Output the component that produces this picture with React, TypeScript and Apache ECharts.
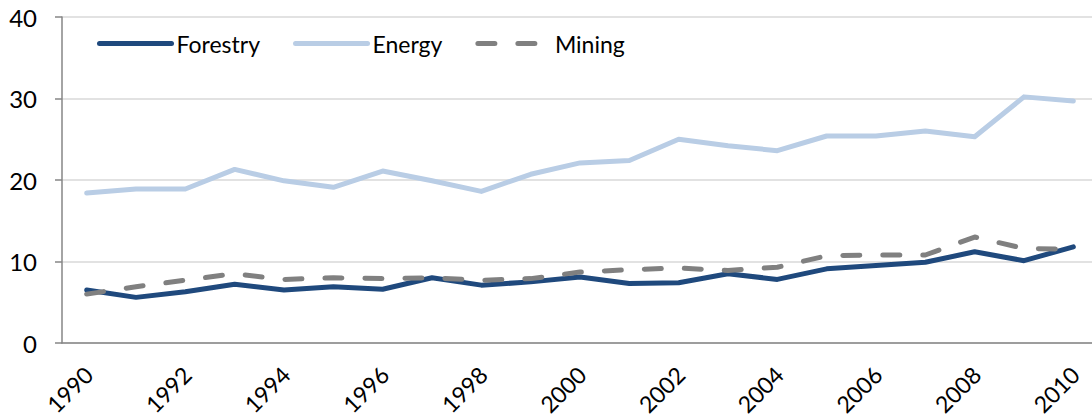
import React, { useEffect, useRef } from "react";
import * as echarts from "echarts";

const years = ["1990","1991","1992","1993","1994","1995","1996","1997","1998","1999","2000","2001","2002","2003","2004","2005","2006","2007","2008","2009","2010"];
const forestry = [6.5, 5.6, 6.3, 7.2, 6.5, 6.9, 6.6, 8.0, 7.1, 7.5, 8.1, 7.3, 7.4, 8.5, 7.8, 9.1, 9.5, 9.9, 11.2, 10.1, 11.8];
const energy = [18.4, 18.9, 18.9, 21.3, 19.9, 19.1, 21.1, 19.9, 18.6, 20.7, 22.1, 22.4, 25.0, 24.2, 23.6, 25.4, 25.4, 26.0, 25.3, 30.2, 29.7];
const mining = [6.0, 6.9, 7.7, 8.5, 7.8, 8.0, 7.9, 8.0, 7.7, 7.9, 8.7, 9.0, 9.2, 8.9, 9.3, 10.7, 10.8, 10.8, 13.0, 11.6, 11.5];
const yTicks = [0, 10, 20, 30, 40];

const FONT = "Lato";

export default function App() {
  const ref = useRef<HTMLDivElement>(null);
  useEffect(() => {
    document.body.style.margin = "0";
    const chart = echarts.init(ref.current!, undefined, { renderer: "svg" });
    chart.setOption({
      animation: false,
      backgroundColor: "#ffffff",
      textStyle: { fontFamily: FONT },
      grid: { left: 62, top: 17, width: 1036, height: 326, containLabel: false, outerBoundsMode: "none" },
      legend: {
        left: 92,
        top: 27,
        itemWidth: 72,
        itemHeight: 14,
        itemGap: 33,
        itemStyle: { opacity: 0 },
        lineStyle: { width: 5, cap: "round" },
        textStyle: { fontSize: 23, color: "#000", fontFamily: FONT, padding: [0, 0, 0, 0] },
        data: ["Forestry", "Energy", "Mining"],
      },
      xAxis: {
        type: "category",
        data: years,
        boundaryGap: true,
        axisLine: { lineStyle: { color: "#868686", width: 1.5 } },
        axisTick: { interval: 1, length: 8, lineStyle: { color: "#868686", width: 1.5 } },
        axisLabel: { interval: 1, rotate: 45, fontSize: 23, color: "#000", margin: 13, verticalAlign: "top", padding: [0, 9, 0, 0], fontFamily: FONT },
        splitLine: { show: false },
      },
      yAxis: {
        type: "value",
        min: yTicks[0],
        max: yTicks[yTicks.length - 1],
        interval: 10,
        axisLine: { show: true, lineStyle: { color: "#868686", width: 1.5 } },
        axisTick: { show: true, length: 7, lineStyle: { color: "#868686", width: 1.5 } },
        axisLabel: { fontSize: 24, color: "#000", margin: 25, fontFamily: FONT },
        splitLine: { lineStyle: { color: "#D9D9D9", width: 1.5 } },
      },
      series: [
        {
          name: "Forestry",
          type: "line",
          data: forestry,
          symbol: "none",
          color: "#1F497D",
          lineStyle: { color: "#1F497D", width: 5, cap: "round", join: "round" },
          z: 3,
        },
        {
          name: "Energy",
          type: "line",
          data: energy,
          symbol: "none",
          color: "#B9CDE5",
          lineStyle: { color: "#B9CDE5", width: 5, cap: "round", join: "round" },
          z: 2,
        },
        {
          name: "Mining",
          type: "line",
          data: mining,
          symbol: "none",
          color: "#808080",
          lineStyle: { color: "#808080", width: 5, type: [17, 23], cap: "round", join: "round" },
          z: 4,
        },
      ],
    });
    return () => chart.dispose();
  }, []);
  return <div ref={ref} style={{ width: 1092, height: 418 }} />;
}
